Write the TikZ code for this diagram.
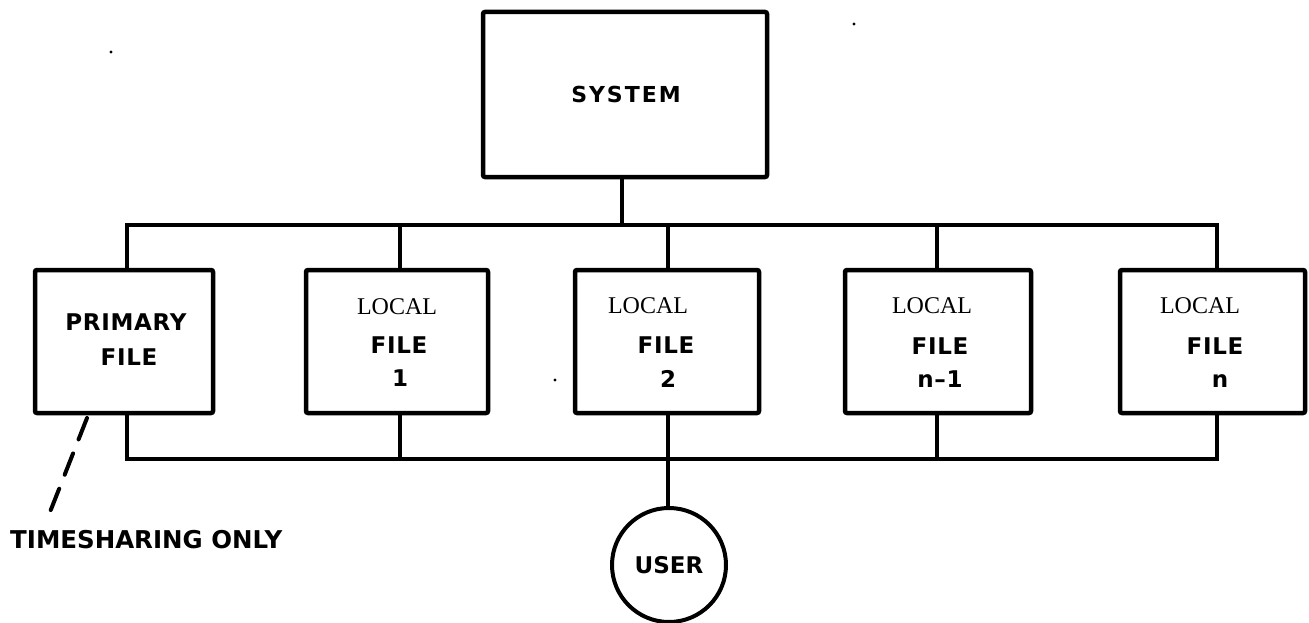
\documentclass[tikz,border=0pt]{standalone}
\usepackage{fontspec}
\setmainfont{DejaVu Sans}
\newfontfamily\capsfont[LetterSpace=3]{DejaVu Sans}
\newfontfamily\widecaps[LetterSpace=9]{DejaVu Sans}
\newfontfamily\seriffont{Liberation Serif}
\begin{document}
\begin{tikzpicture}[x=1pt,y=-1pt,
  box/.style={draw,line width=4.5pt,rounded corners=2pt,inner sep=0pt},
  wire/.style={line width=3.5pt,line join=miter},
  sans/.style={font=\capsfont\bfseries\fontsize{23}{27}\selectfont,inner sep=0pt,anchor=base},
  serif/.style={font=\seriffont\fontsize{24}{28}\selectfont,inner sep=0pt,anchor=base},
  speck/.style={fill=black}]
\useasboundingbox (0,0) rectangle (1309,623);

% boxes
\node[box,minimum width=284pt,minimum height=165pt] (sys) at (625,94.5) {};
\node[box,minimum width=178pt,minimum height=143pt] (pf) at (124,341.5) {};
\node[box,minimum width=182pt,minimum height=143pt] (l1) at (397,341.5) {};
\node[box,minimum width=184pt,minimum height=143pt] (l2) at (667,341.5) {};
\node[box,minimum width=186pt,minimum height=143pt] (l3) at (938,341.5) {};
\node[box,minimum width=185pt,minimum height=143pt] (ln) at (1212.5,341.5) {};
\node[draw,circle,line width=4pt,minimum size=114pt,inner sep=0pt,
      font=\bfseries\fontsize{23}{27}\selectfont] (user) at (669,565) {USER};

% labels
\node[sans,font=\widecaps\bfseries\fontsize{22}{26}\selectfont] (syst) at (626,103) {SYSTEM};
\node[sans] (pfa) at (126,330) {PRIMARY};
\node[sans] (pfb) at (129,365) {FILE};
\node[serif] (l1a) at (397,314) {LOCAL};
\node[sans] (l1b) at (399,353) {FILE};
\node[sans] (l1c) at (400,386) {1};
\node[serif] (l2a) at (648,313) {LOCAL};
\node[sans] (l2b) at (666,353) {FILE};
\node[sans] (l2c) at (668,387) {2};
\node[serif] (l3a) at (932,313) {LOCAL};
\node[sans] (l3b) at (940,354) {FILE};
\node[sans] (l3c) at (940,387) {n–1};
\node[serif] (lna) at (1200,313) {LOCAL};
\node[sans] (lnb) at (1215,354) {FILE};
\node[sans] (lnc) at (1220,387) {n};
\node[sans,anchor=base west,font=\bfseries\fontsize{24.5}{28}\selectfont] (ts) at (10,548) {TIMESHARING ONLY};

% bus taps
\coordinate (ta) at (127,225);
\coordinate (tb) at (400,225);
\coordinate (tc) at (668,225);
\coordinate (td) at (937,225);
\coordinate (te) at (1217,225);
\coordinate (tsys) at (622,225);
\coordinate (ba) at (127,459);
\coordinate (bb) at (400,459);
\coordinate (bc) at (668,459);
\coordinate (bd) at (937,459);
\coordinate (be) at (1217,459);

% upper bus
\draw[wire] (sys.south -| tsys) -- (tsys);
\draw[wire] (ta |- pf.north) -- (ta) -- (te) -- (te |- ln.north);
\draw[wire] (tb) -- (tb |- l1.north);
\draw[wire] (tc) -- (tc |- l2.north);
\draw[wire] (td) -- (td |- l3.north);

% lower bus
\draw[wire] (ba |- pf.south) -- (ba) -- (be) -- (be |- ln.south);
\draw[wire] (bb |- l1.south) -- (bb);
\draw[wire] (bc |- l2.south) -- (bc) -- (bc |- user.north);
\draw[wire] (bd |- l3.south) -- (bd);

% timesharing leader
\coordinate (d1) at (87,418);
\coordinate (d2) at (50,512);
\draw[line width=4pt,line cap=round,dash pattern=on 23pt off 15pt] (d1) -- (d2);

% specks
\fill[speck] (111,52) circle (1.6pt);
\fill[speck] (854,24) circle (1.6pt);
\fill[speck] (555,380) circle (1.6pt);
\end{tikzpicture}
\end{document}
